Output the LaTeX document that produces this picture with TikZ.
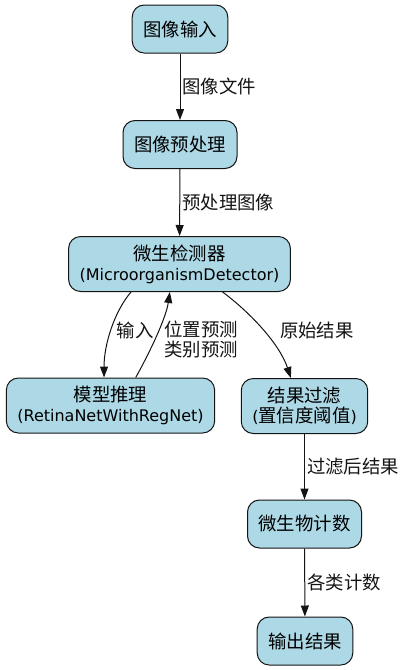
\documentclass[tikz,border=0pt]{standalone}
\usepackage{fontspec}
\setmainfont{DejaVu Sans}
\newfontfamily\cjk[Scale=1.15]{Noto Sans CJK SC}
\usepackage{tikz}
\usetikzlibrary{arrows.meta}
\definecolor{boxblue}{RGB}{173, 216, 230}
\definecolor{edgegray}{RGB}{20, 20, 20}

\begin{document}
\begin{tikzpicture}[
    x=1pt, y=-1pt,
    stage/.style={draw=edgegray, fill=boxblue, rounded corners=12pt, line width=1pt, minimum height=48pt, inner xsep=11pt, font=\fontsize{16}{20}\selectfont\cjk, align=center},
    arrow/.style={-{Triangle[length=11pt, width=8pt]}, line width=1pt, edgegray},
    lbl/.style={font=\fontsize{16}{20}\selectfont\cjk, inner sep=2pt, align=left}
]
    \useasboundingbox (0,0) rectangle (406,670);
    % Nodes
    \node[stage] (input) at (180,29) {图像输入};
    \node[stage] (prep) at (180,144.5) {图像预处理};
    \node[stage, minimum height=55pt] (detector) at (179.5,264) {微生检测器\\{\rmfamily(MicroorganismDetector)}};
    \node[stage, minimum height=55pt] (model) at (110.5,405.5) {模型推理\\{\rmfamily(RetinaNetWithRegNet)}};
    \node[stage, minimum height=55pt] (filter) at (304.5,406) {结果过滤\\{\rmfamily(}置信度阈值{\rmfamily)}};
    \node[stage] (count) at (304.5,524) {微生物计数};
    \node[stage] (output) at (305,641) {输出结果};

    % Arrows
    \draw[arrow] (input) -- (prep) node[midway, right, lbl] {图像文件};
    \draw[arrow] (prep) -- (detector) node[midway, right, lbl] {预处理图像};
    \draw[arrow] (detector.210) .. controls (114,312) and (104,345) .. (model.103) node[pos=0.5, anchor=west, lbl, xshift=3pt] {输入};
    \draw[arrow] (model.48) .. controls (150,352) and (166,318) .. (detector.251) node[pos=0.45, anchor=west, lbl, xshift=7pt] {位置预测\\类别预测};
    \draw[arrow] (detector.-33) .. controls (252,314) and (280,345) .. (filter.116) node[pos=0.5, anchor=west, lbl, xshift=14pt] {原始结果};
    \draw[arrow] (filter) -- (count) node[midway, right, lbl] {过滤后结果};
    \draw[arrow] (count) -- (output) node[midway, right, lbl] {各类计数};
\end{tikzpicture}
\end{document}
